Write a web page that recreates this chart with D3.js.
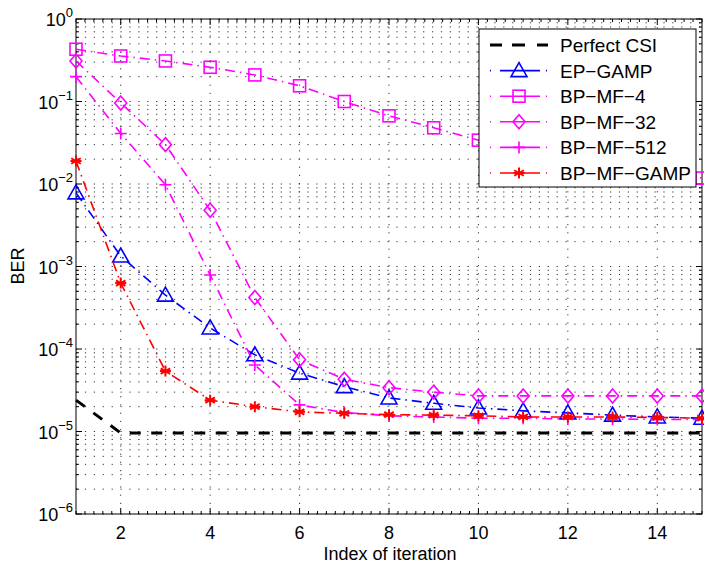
<!DOCTYPE html>
<html>
<head>
<meta charset="utf-8">
<script src="https://cdn.jsdelivr.net/npm/d3@7"></script>
<style>
  body { margin: 0; background: #fff; }
  svg { display: block; font-family: "Liberation Sans", Arial, Helvetica, sans-serif; }
</style>
</head>
<body>
<svg id="chart" width="704" height="568"></svg>
<script>
// data
var iterations = [1, 2, 3, 4, 5, 6, 7, 8, 9, 10, 11, 12, 13, 14, 15];
var perfectCSI = [2.4e-5, 9.6e-6, 9.6e-6, 9.6e-6, 9.6e-6, 9.6e-6, 9.6e-6, 9.6e-6, 9.6e-6, 9.6e-6, 9.6e-6, 9.6e-6, 9.6e-6, 9.6e-6, 9.6e-6];
var epGamp = [7.8e-3, 1.34e-3, 4.5e-4, 1.8e-4, 8.5e-5, 5.1e-5, 3.5e-5, 2.55e-5, 2.2e-5, 1.93e-5, 1.78e-5, 1.68e-5, 1.58e-5, 1.5e-5, 1.45e-5];
var bpmf4 = [0.43, 0.356, 0.31, 0.26, 0.21, 0.155, 0.10, 0.067, 0.048, 0.034, 0.026, 0.021, 0.017, 0.014, 0.0118];
var bpmf32 = [0.31, 0.096, 0.03, 4.8e-3, 4.2e-4, 7.4e-5, 4.3e-5, 3.4e-5, 3.0e-5, 2.7e-5, 2.7e-5, 2.7e-5, 2.7e-5, 2.7e-5, 2.7e-5];
var bpmf512 = [0.2, 0.041, 9.8e-3, 7.9e-4, 6.4e-5, 2.1e-5, 1.7e-5, 1.55e-5, 1.5e-5, 1.45e-5, 1.45e-5, 1.42e-5, 1.42e-5, 1.4e-5, 1.4e-5];
var bpmfGamp = [0.019, 6.3e-4, 5.4e-5, 2.4e-5, 2.0e-5, 1.73e-5, 1.66e-5, 1.6e-5, 1.58e-5, 1.55e-5, 1.5e-5, 1.5e-5, 1.5e-5, 1.48e-5, 1.45e-5];
var xTicks = [2, 4, 6, 8, 10, 12, 14];
var yDecades = [-6, -5, -4, -3, -2, -1, 0];

var series = [
  { name: "Perfect CSI", values: perfectCSI, color: "#000", marker: "none", dash: "11,10.5", width: 3 },
  { name: "EP\u2212GAMP", values: epGamp, color: "#0000ff", marker: "triangle", dash: "10,5,1.5,5", width: 1.6 },
  { name: "BP\u2212MF\u22124", values: bpmf4, color: "#ff00ff", marker: "square", dash: "10,5,1.5,5", width: 1.6 },
  { name: "BP\u2212MF\u221232", values: bpmf32, color: "#ff00ff", marker: "diamond", dash: "10,5,1.5,5", width: 1.6 },
  { name: "BP\u2212MF\u2212512", values: bpmf512, color: "#ff00ff", marker: "plus", dash: "10,5,1.5,5", width: 1.6 },
  { name: "BP\u2212MF\u2212GAMP", values: bpmfGamp, color: "#ff0000", marker: "star", dash: "10,5,1.5,5", width: 1.6 }
];

var pLeft = 76, pRight = 702, pTop = 19, pBottom = 514;
var svg = d3.select("#chart");

var x = d3.scaleLinear().domain([1, 15]).range([pLeft, pRight]);
var y = d3.scaleLog().domain([1e-6, 1]).range([pBottom, pTop]);

// grid
var grid = svg.append("g");
var minorY = [];
yDecades.slice(0, -1).forEach(function (e) {
  for (var k = 2; k <= 9; k++) minorY.push(k * Math.pow(10, e));
});
var allY = minorY.concat(yDecades.map(function (e) { return Math.pow(10, e); }));
grid.selectAll("line.hg").data(allY).enter().append("line")
  .attr("x1", pLeft).attr("x2", pRight)
  .attr("y1", function (d) { return y(d); })
  .attr("y2", function (d) { return y(d); })
  .attr("stroke", "#333").attr("stroke-width", 1)
  .attr("stroke-dasharray", "1.2,7.7");
grid.selectAll("line.vg").data(xTicks).enter().append("line")
  .attr("x1", function (d) { return x(d); })
  .attr("x2", function (d) { return x(d); })
  .attr("y1", pTop).attr("y2", pBottom)
  .attr("stroke", "#333").attr("stroke-width", 1)
  .attr("stroke-dasharray", "1.2,7");

// frame and ticks
var axes = svg.append("g").attr("stroke", "#000").attr("stroke-width", 1);
axes.append("rect").attr("x", pLeft).attr("y", pTop)
  .attr("width", pRight - pLeft).attr("height", pBottom - pTop).attr("fill", "none");

var minorX = d3.range(1, 15.001, 0.2);
minorX.forEach(function (v) {
  var major = xTicks.indexOf(Math.round(v * 10) / 10) >= 0;
  var len = major ? 6 : 3;
  axes.append("line").attr("x1", x(v)).attr("x2", x(v)).attr("y1", pBottom).attr("y2", pBottom - len);
  axes.append("line").attr("x1", x(v)).attr("x2", x(v)).attr("y1", pTop).attr("y2", pTop + len);
});
allY.forEach(function (v, i) {
  var len = i < minorY.length ? 3 : 6;
  axes.append("line").attr("x1", pLeft).attr("x2", pLeft + len).attr("y1", y(v)).attr("y2", y(v));
  axes.append("line").attr("x1", pRight).attr("x2", pRight - len).attr("y1", y(v)).attr("y2", y(v));
});

// tick labels
svg.append("g").selectAll("text").data(xTicks).enter().append("text")
  .attr("x", function (d) { return x(d); })
  .attr("y", 539)
  .attr("text-anchor", "middle")
  .attr("font-size", 18)
  .text(function (d) { return d; });

var yl = svg.append("g").selectAll("text").data(yDecades).enter().append("text")
  .attr("x", 73)
  .attr("y", function (d) { return y(Math.pow(10, d)) + 7; })
  .attr("text-anchor", "end")
  .attr("font-size", 18);
yl.append("tspan").text("10");
yl.append("tspan").attr("font-size", 13).attr("dy", -9)
  .text(function (d) { return d === 0 ? "0" : "\u2212" + (-d); });

svg.append("text").attr("x", 390).attr("y", 560).attr("text-anchor", "middle")
  .attr("font-size", 18).text("Index of iteration");
svg.append("text").attr("transform", "translate(24,266) rotate(-90)")
  .attr("text-anchor", "middle").attr("font-size", 18).text("BER");

// markers
function drawMarker(g, type, cx, cy, color) {
  if (type === "triangle") {
    g.append("path").attr("d", "M" + cx + "," + (cy - 8) + "L" + (cx + 8) + "," + (cy + 6) + "L" + (cx - 8) + "," + (cy + 6) + "Z")
      .attr("fill", "none").attr("stroke", color).attr("stroke-width", 1.6);
  } else if (type === "square") {
    g.append("rect").attr("x", cx - 6).attr("y", cy - 6).attr("width", 12).attr("height", 12)
      .attr("fill", "none").attr("stroke", color).attr("stroke-width", 1.6);
  } else if (type === "diamond") {
    g.append("path").attr("d", "M" + cx + "," + (cy - 7) + "L" + (cx + 6) + "," + cy + "L" + cx + "," + (cy + 7) + "L" + (cx - 6) + "," + cy + "Z")
      .attr("fill", "none").attr("stroke", color).attr("stroke-width", 1.6);
  } else if (type === "plus") {
    g.append("path").attr("d", "M" + (cx - 6) + "," + cy + "H" + (cx + 6) + "M" + cx + "," + (cy - 6) + "V" + (cy + 6))
      .attr("stroke", color).attr("stroke-width", 1.6);
  } else if (type === "star") {
    var r = 5.5, d = "";
    [0, 60, 120].forEach(function (a) {
      var t = a * Math.PI / 180;
      d += "M" + (cx - r * Math.sin(t)) + "," + (cy - r * Math.cos(t)) + "L" + (cx + r * Math.sin(t)) + "," + (cy + r * Math.cos(t));
    });
    d += "M" + (cx - r) + "," + cy + "H" + (cx + r);
    g.append("path").attr("d", d).attr("stroke", color).attr("stroke-width", 2);
  }
}

var line = d3.line()
  .x(function (d, i) { return x(iterations[i]); })
  .y(function (d) { return y(d); });

series.forEach(function (s) {
  var g = svg.append("g");
  g.append("path").attr("d", line(s.values))
    .attr("fill", "none").attr("stroke", s.color)
    .attr("stroke-width", s.width).attr("stroke-dasharray", s.dash);
  s.values.forEach(function (v, i) {
    drawMarker(g, s.marker, x(iterations[i]), y(v), s.color);
  });
});

// legend
var lg = svg.append("g");
lg.append("rect").attr("x", 479).attr("y", 29).attr("width", 217).attr("height", 158)
  .attr("fill", "#fff").attr("stroke", "#000").attr("stroke-width", 1);
series.forEach(function (s, i) {
  var ly = 45 + i * 25.6;
  lg.append("line").attr("x1", 490).attr("x2", 548).attr("y1", ly).attr("y2", ly)
    .attr("stroke", s.color).attr("stroke-width", s.width)
    .attr("stroke-dasharray", s.marker === "none" ? "12,10,13,12,12" : "1,9,40,6,1");
  drawMarker(lg, s.marker, 519, ly, s.color);
  lg.append("text").attr("x", 560).attr("y", ly + 7).attr("font-size", 19).text(s.name);
});
</script>
</body>
</html>
